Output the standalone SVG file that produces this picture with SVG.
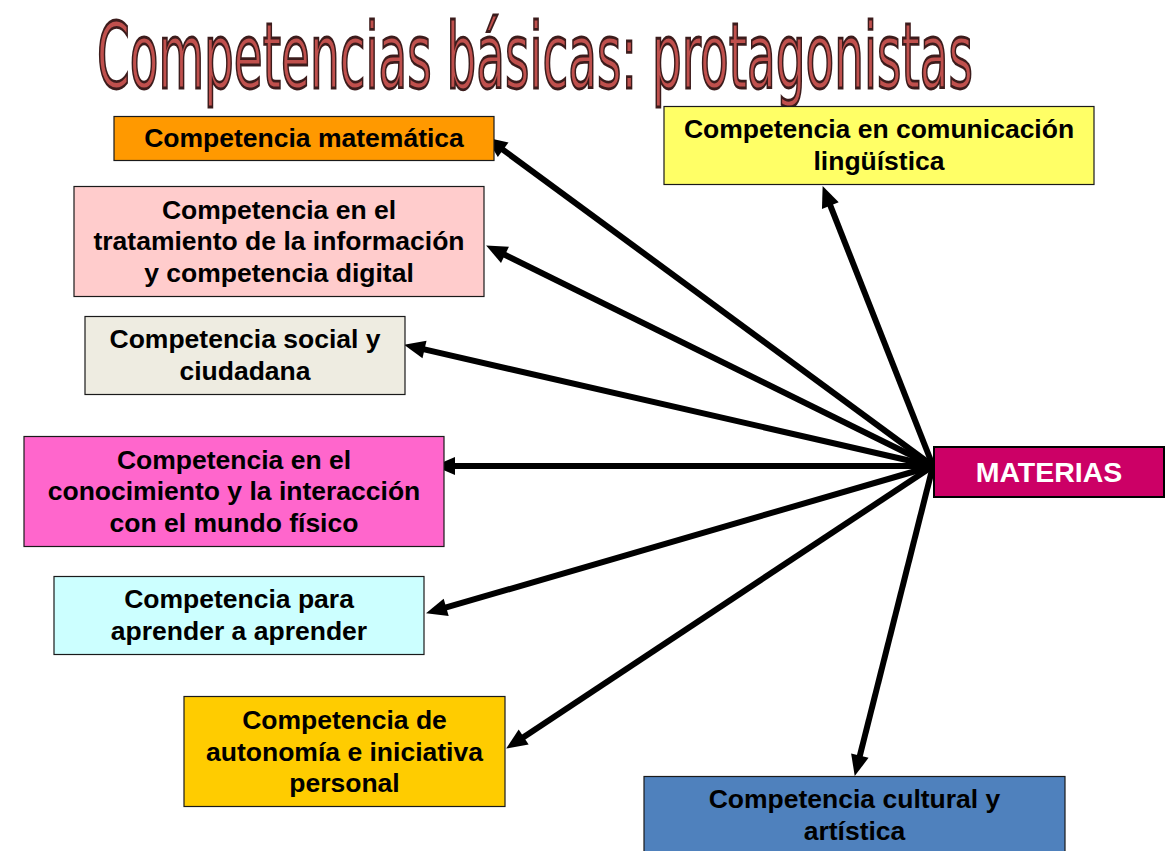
<svg xmlns="http://www.w3.org/2000/svg" width="1171" height="851" viewBox="0 0 1171 851">
<style>
.box{stroke:#1a1a1a;stroke-width:1.2}
.lbl{font-family:"Liberation Sans",Arial,sans-serif;font-weight:bold;font-size:26.5px;fill:#000;text-anchor:middle}
.conn{stroke:#000;stroke-width:6;fill:none}
.title{font-family:"DejaVu Sans","Liberation Sans",sans-serif;font-size:52px;fill:#C0504D;stroke:#3c1c1c;stroke-width:1.6}
</style>
<defs>
<marker id="ah" markerUnits="userSpaceOnUse" markerWidth="22" markerHeight="19" refX="8" refY="9" orient="auto" overflow="visible">
<path d="M0,0 L21,9 L0,18 z" fill="#000"/>
</marker>
</defs>
<rect width="1171" height="851" fill="#fff"/>
<g id="title">
<text class="title" transform="translate(97,88) scale(1,1.75)" x="0" y="0" textLength="876" lengthAdjust="spacingAndGlyphs">Competencias básicas: protagonistas</text>
</g>
<g id="connectors">
<line class="conn" x1="933" y1="466" x2="496.7" y2="145.1" marker-end="url(#ah)"/>
<line class="conn" x1="933" y1="466" x2="497.8" y2="251.3" marker-end="url(#ah)"/>
<line class="conn" x1="933" y1="466" x2="416.7" y2="347.7" marker-end="url(#ah)"/>
<line class="conn" x1="933" y1="466" x2="447" y2="466" marker-end="url(#ah)"/>
<line class="conn" x1="933" y1="466" x2="438.5" y2="609.7" marker-end="url(#ah)"/>
<line class="conn" x1="933" y1="466" x2="517" y2="741.4" marker-end="url(#ah)"/>
<line class="conn" x1="933" y1="466" x2="857.9" y2="763.4" marker-end="url(#ah)"/>
<line class="conn" x1="933" y1="466" x2="827.4" y2="198.2" marker-end="url(#ah)"/>
</g>
<g id="n-matematica">
<rect class="box" x="114" y="116.5" width="380" height="44" fill="#FF9900"/>
<text class="lbl" x="304" y="147">Competencia matemática</text>
</g>
<g id="n-comunicacion">
<rect class="box" x="664" y="106.5" width="430" height="78" fill="#FFFF66"/>
<text class="lbl" x="879" y="138">Competencia en comunicación</text>
<text class="lbl" x="879" y="169.5">lingüística</text>
</g>
<g id="n-tratamiento">
<rect class="box" x="74" y="186.5" width="410" height="110" fill="#FFCCCC"/>
<text class="lbl" x="279" y="218.5">Competencia en el</text>
<text class="lbl" x="279" y="250">tratamiento de la información</text>
<text class="lbl" x="279" y="281.5">y competencia digital</text>
</g>
<g id="n-social">
<rect class="box" x="85" y="316.5" width="320" height="78" fill="#EEECE1"/>
<text class="lbl" x="245" y="348">Competencia social y</text>
<text class="lbl" x="245" y="379.5">ciudadana</text>
</g>
<g id="n-conocimiento">
<rect class="box" x="24" y="436.5" width="420" height="110" fill="#FF66CC"/>
<text class="lbl" x="234" y="468.5">Competencia en el</text>
<text class="lbl" x="234" y="500">conocimiento y la interacción</text>
<text class="lbl" x="234" y="531.5">con el mundo físico</text>
</g>
<g id="n-aprender">
<rect class="box" x="54" y="576.5" width="370" height="78" fill="#CCFFFF"/>
<text class="lbl" x="239" y="608">Competencia para</text>
<text class="lbl" x="239" y="639.5">aprender a aprender</text>
</g>
<g id="n-autonomia">
<rect class="box" x="184" y="696.5" width="321" height="110" fill="#FFCC00"/>
<text class="lbl" x="344.5" y="729">Competencia de</text>
<text class="lbl" x="344.5" y="760.5">autonomía e iniciativa</text>
<text class="lbl" x="344.5" y="792">personal</text>
</g>
<g id="n-cultural">
<rect class="box" x="644" y="776.5" width="421" height="80" fill="#4F81BD"/>
<text class="lbl" x="854.5" y="808">Competencia cultural y</text>
<text class="lbl" x="854.5" y="839.5">artística</text>
</g>
<g id="n-materias">
<rect x="934" y="447" width="230" height="50" fill="#CC0066" stroke="#000" stroke-width="2"/>
<text x="1049" y="481.5" font-family="'Liberation Sans',Arial,sans-serif" font-weight="bold" font-size="28.5" fill="#fff" text-anchor="middle">MATERIAS</text>
</g>
</svg>
